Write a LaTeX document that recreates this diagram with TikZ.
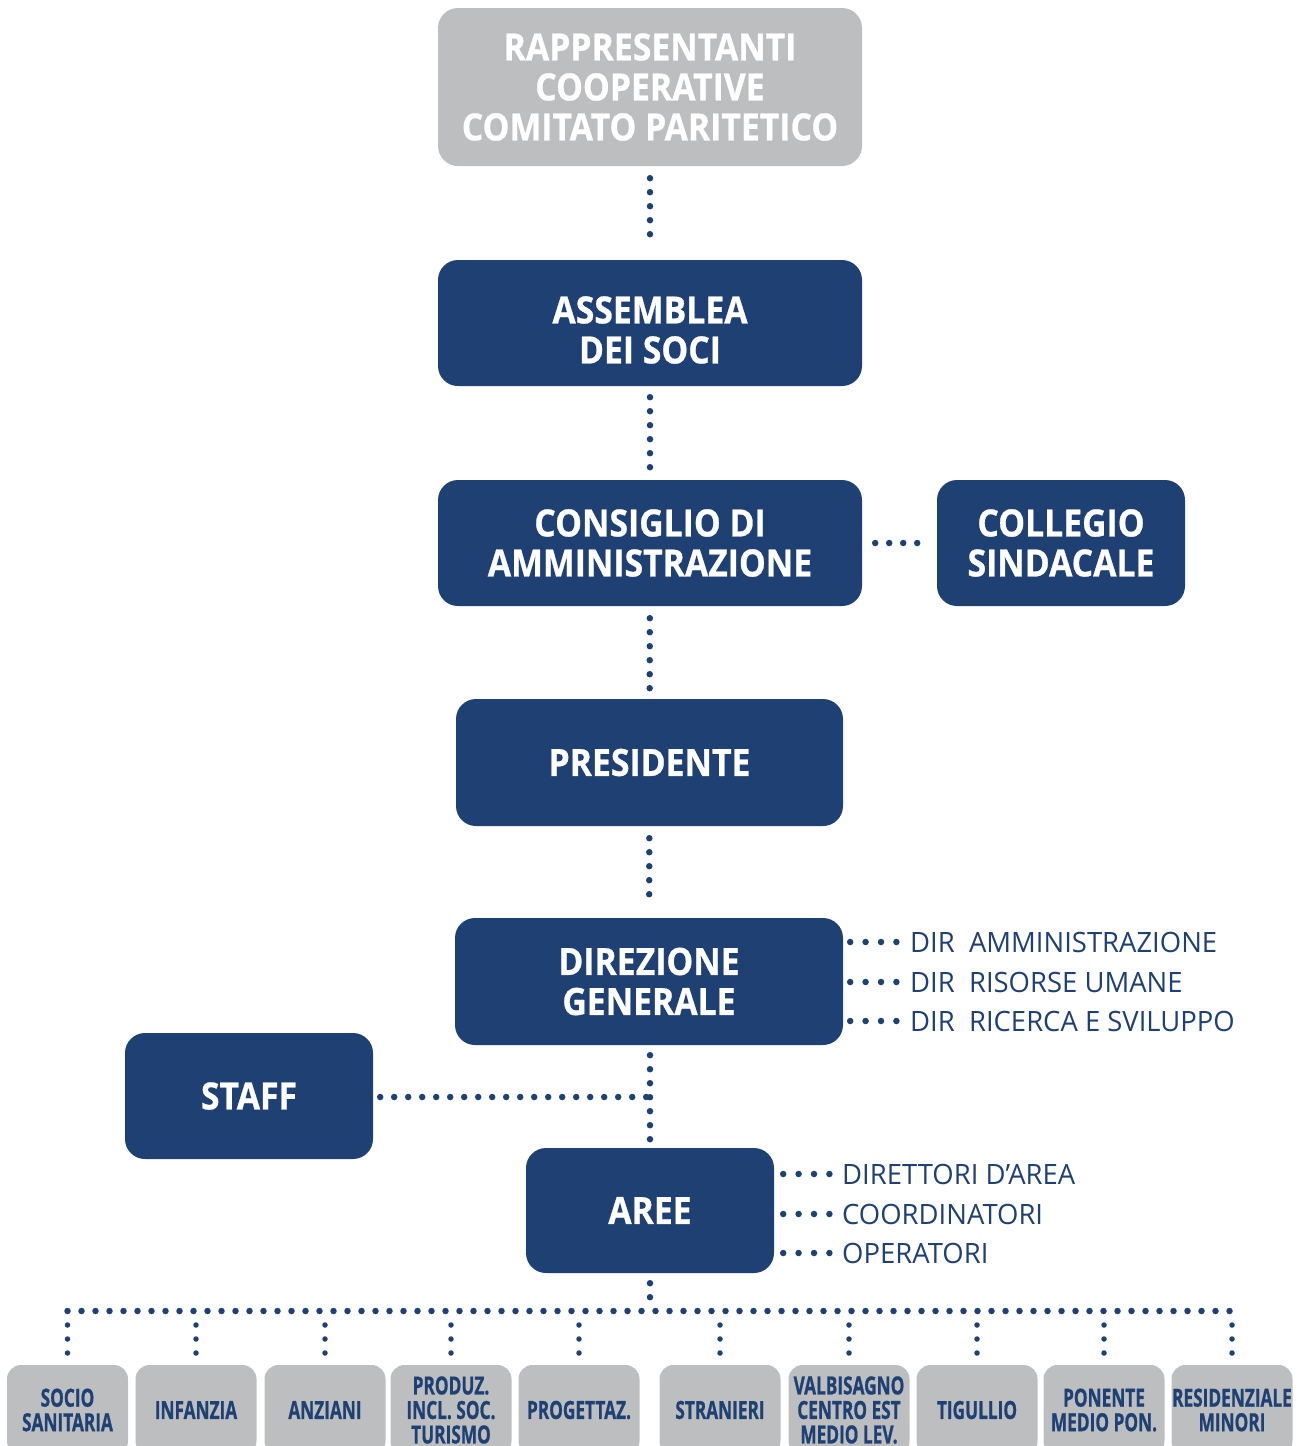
\documentclass[tikz,border=0pt]{standalone}
\usepackage{fontspec}
\newfontfamily\bfont[FakeStretch=0.9, BoldFeatures={FakeBold=0.7}]{Open Sans}
\newfontfamily\cfont[FakeStretch=0.69, BoldFeatures={FakeBold=0.7}]{Open Sans}
\newfontfamily\rfont[FakeStretch=0.98]{Open Sans}
\definecolor{navy}{HTML}{1F4073}
\definecolor{lgray}{HTML}{BDBEC0}
\begin{document}
\begin{tikzpicture}[x=1pt,y=-1pt,
  boxshape/.style={rectangle, rounded corners=20pt, fill=navy, inner sep=0pt},
  bluebox/.style={boxshape, text=white,
    font=\bfont\bfseries\fontsize{37.5}{40}\selectfont, align=center},
  boxtext/.style={text=white, inner sep=0pt,
    font=\bfont\bfseries\fontsize{37.5}{40}\selectfont, align=center},
  topbox/.style={bluebox, fill=lgray},
  gbox/.style={rectangle, rounded corners=14pt, fill=lgray, text=navy,
    minimum width=121pt, minimum height=90pt,
    font=\cfont\bfseries\fontsize{25}{24.5}\selectfont, align=center, inner sep=0pt},
  sidetext/.style={anchor=west, text=navy, inner sep=0pt,
    font=\rfont\fontsize{28}{30}\selectfont},
  dotline/.style={draw=navy, line width=6.5pt, line cap=round, dash pattern=on 0pt off 14pt},
  sidedots/.style={draw=navy, line width=6.5pt, line cap=round, dash pattern=on 0pt off 15.4pt},
  smalldots/.style={draw=navy, line width=5.5pt, line cap=round, dash pattern=on 0pt off 14pt}
]
\useasboundingbox (0,0) rectangle (1301,1446);
\clip (0,0) rectangle (1301,1446);

% main boxes
\node[topbox, minimum width=424pt, minimum height=158pt] (top) at (650,87)
  {RAPPRESENTANTI\\COOPERATIVE\\COMITATO PARITETICO};
\node[boxshape, minimum width=424pt, minimum height=126pt] (asm) at (650,323) {};
\node[boxtext] (asmtext) at (650,330) {ASSEMBLEA\\DEI SOCI};
\node[bluebox, minimum width=424pt, minimum height=126pt] (cda) at (650,543)
  {CONSIGLIO DI\\AMMINISTRAZIONE};
\node[bluebox, minimum width=248pt, minimum height=126pt] (col) at (1061,543)
  {COLLEGIO\\SINDACALE};
\node[bluebox, minimum width=387pt, minimum height=127pt] (pres) at (649.5,762.5)
  {PRESIDENTE};
\node[bluebox, minimum width=388pt, minimum height=127pt] (dir) at (649,981.5)
  {DIREZIONE\\GENERALE};
\node[bluebox, minimum width=248pt, minimum height=126pt] (staff) at (249,1096)
  {STAFF};
\node[bluebox, minimum width=248pt, minimum height=125pt] (aree) at (650,1210.5)
  {AREE};

% side texts
\node[sidetext] (d1) at (910,942) {DIR\ \ AMMINISTRAZIONE};
\node[sidetext] (d2) at (910,982) {DIR\ \ RISORSE UMANE};
\node[sidetext] (d3) at (910,1021) {DIR\ \ RICERCA E SVILUPPO};
\node[sidetext] (a1) at (842,1174) {DIRETTORI D’AREA};
\node[sidetext] (a2) at (842,1214) {COORDINATORI};
\node[sidetext] (a3) at (842,1253) {OPERATORI};

% bottom boxes
\node[gbox] (b1) at (67.5,1410) {SOCIO\\SANITARIA};
\node[gbox] (b2) at (196,1410) {INFANZIA};
\node[gbox] (b3) at (325,1410) {ANZIANI};
\node[gbox] (b4) at (451,1410) {PRODUZ.\\INCL. SOC.\\TURISMO};
\node[gbox] (b5) at (579,1410) {PROGETTAZ.};
\node[gbox] (b6) at (720,1410) {STRANIERI};
\node[gbox] (b7) at (849,1410) {VALBISAGNO\\CENTRO EST\\MEDIO LEV.};
\node[gbox] (b8) at (977,1410) {TIGULLIO};
\node[gbox] (b9) at (1104,1410) {PONENTE\\MEDIO PON.};
\node[gbox] (b10) at (1232,1410) {RESIDENZIALE\\MINORI};

% connectors
\draw[dotline, shorten <=12pt, shorten >=12pt] (top) -- (asm);
\draw[dotline, shorten <=11pt, shorten >=11pt] (asm) -- (cda);
\draw[dotline, shorten <=13pt, shorten >=13pt] (cda) -- (col);
\draw[dotline, shorten <=12pt, shorten >=10pt] (cda) -- (pres);
\draw[dotline, shorten <=12pt, shorten >=10pt] (pres) -- (dir);
\coordinate (sj) at (650,1097);
\draw[dotline, shorten <=10pt] (dir.south -| sj) -- (aree.north -| sj);
\draw[dotline, shorten <=7pt] (staff.east |- sj) -- (sj);

\foreach \t in {d1,d2,d3}{
  \draw[sidedots, shorten <=7pt, shorten >=12pt] (dir.east |- \t.west) -- (\t.west);
}
\foreach \t in {a1,a2,a3}{
  \draw[sidedots, shorten <=9pt, shorten >=11pt] (aree.east |- \t.west) -- (\t.west);
}

\coordinate (bus) at (650,1311);
\draw[dotline, shorten <=10pt] (aree.south) -- (bus);
\draw[dotline] (b1.north |- bus) -- (b10.north |- bus);
\foreach \b in {b1,b2,b3,b4,b5,b6,b7,b8,b9,b10}{
  \draw[smalldots, shorten <=14pt, shorten >=8pt] (\b.north |- bus) -- (\b.north);
}
\end{tikzpicture}
\end{document}
